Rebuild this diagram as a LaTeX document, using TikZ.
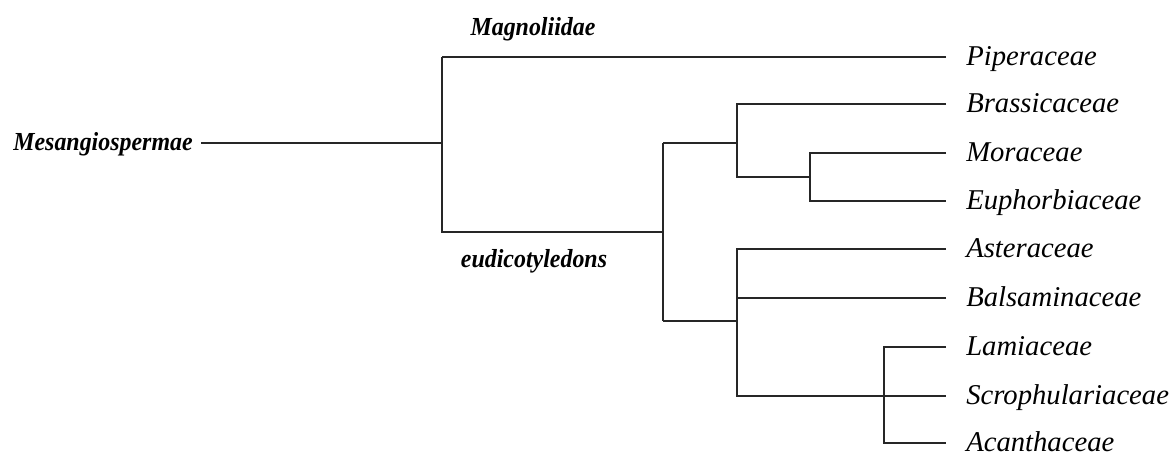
\documentclass[tikz,border=0pt]{standalone}
\usepackage{fontspec}
\setmainfont{Liberation Serif}
\newfontfamily\cladefont[FakeStretch=0.92]{Liberation Serif}
\usetikzlibrary{positioning}
\usetikzlibrary{calc}

\begin{document}
\begin{tikzpicture}[x=0.75pt,y=-0.75pt,
    branch/.style={line width=1.1pt,color=black!85},
    taxon/.style={anchor=west,inner sep=0pt,text height=14pt,text depth=2pt,
      font=\fontsize{21.5}{24}\selectfont\itshape},
    clade/.style={inner sep=0pt,font=\fontsize{19.5}{22}\selectfont\cladefont\bfseries\itshape}]
    \useasboundingbox (0,0) rectangle (1175,455);
    % leaves
    \node[taxon] (pip) at (966,57) {Piperaceae};
    \node[taxon] (bra) at (966,104) {Brassicaceae};
    \node[taxon] (mor) at (966,153) {Moraceae};
    \node[taxon] (eup) at (966,201) {Euphorbiaceae};
    \node[taxon] (ast) at (966,249) {Asteraceae};
    \node[taxon] (bal) at (966,298) {Balsaminaceae};
    \node[taxon] (lam) at (966,347) {Lamiaceae};
    \node[taxon] (scr) at (966,396) {Scrophulariaceae};
    \node[taxon] (aca) at (966,443) {Acanthaceae};
    % clades
    \node[clade,anchor=east] (root) at (193,144) {Mesangiospermae};
    \node[clade] (mag) at (533,29) {Magnoliidae};
    \node[clade] (eud) at (534,261) {eudicotyledons};
    % internal points
    \coordinate (n1) at (442,143);
    \coordinate (n2) at (663,232);
    \coordinate (n3) at (737,143);
    \coordinate (n4) at (810,177);
    \coordinate (n5) at (737,321);
    \coordinate (n6) at (884,396);
    \draw[branch] ($(root.east)+(8,-1)$) -- (n1);
    \draw[branch] (pip.west-|n1) -- (n2-|n1) -- (n2);
    \draw[branch] ([xshift=-15]pip.west) -- (pip.west-|n1);
    \draw[branch] (n3-|n2) -- (n5-|n2);
    \draw[branch] (n3-|n2) -- (n3);
    \draw[branch] (n5-|n2) -- (n5);
    \draw[branch] ([xshift=-15]bra.west) -- (bra.west-|n3) -- (n4-|n3) -- (n4);
    \draw[branch] ([xshift=-15]mor.west) -- (mor.west-|n4) -- (eup.west-|n4) -- ([xshift=-15]eup.west);
    \draw[branch] ([xshift=-15]ast.west) -- (ast.west-|n5) -- (scr.west-|n5) -- ([xshift=-15]scr.west);
    \draw[branch] ([xshift=-15]bal.west) -- (bal.west-|n5);
    \draw[branch] ([xshift=-15]lam.west) -- (lam.west-|n6) -- (aca.west-|n6) -- ([xshift=-15]aca.west);
\end{tikzpicture}
\end{document}
